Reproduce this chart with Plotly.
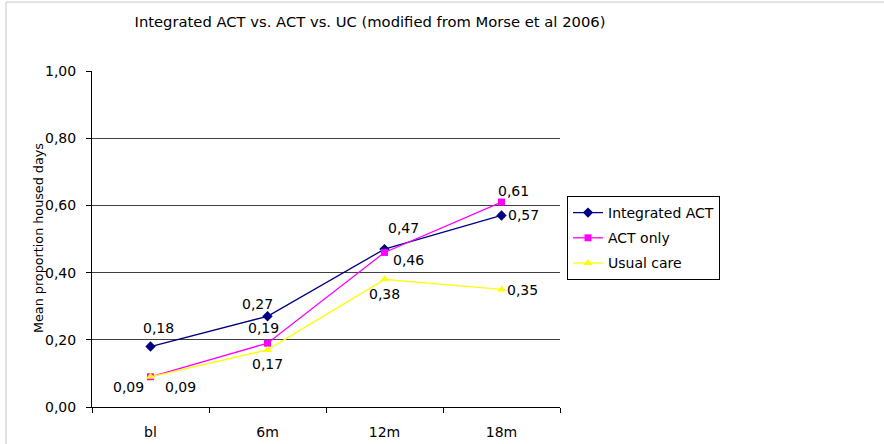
import plotly.graph_objects as go

categories = ["bl", "6m", "12m", "18m"]
integrated_act = [0.18, 0.27, 0.47, 0.57]
act_only = [0.09, 0.19, 0.46, 0.61]
usual_care = [0.09, 0.17, 0.38, 0.35]
y_ticks = [0.0, 0.2, 0.4, 0.6, 0.8, 1.0]

W, H = 884, 444
L, R, T, B = 92, 324, 71, 37
FONT = "DejaVu Sans, Arial, sans-serif"

series = [
    ("Integrated ACT", integrated_act, "#000080", "diamond", 8,
     [(8, 19), (-10, 12), (19, 21), (22, 0)]),
    ("ACT only", act_only, "#FF00FF", "square", 7,
     [(-22, -10), (-4, 15), (24, -8), (12, 11)]),
    ("Usual care", usual_care, "#FFFF00", "triangle-up", 8,
     [(30, -10), (0, -14), (0, -15), (21, -1)]),
]

fig = go.Figure()
annotations = []
for name, vals, color, sym, msize, offs in series:
    fig.add_trace(go.Scatter(
        x=categories, y=vals, name=name, legendgroup=name, mode="lines+markers",
        line=dict(color=color, width=1.3),
        marker=dict(color=color, symbol=sym, size=msize),
    ))
    for c, v, (dx, dy) in zip(categories, vals, offs):
        annotations.append(dict(
            x=c, y=v, xref="x", yref="y", text=f"{v:.2f}".replace(".", ","),
            showarrow=False, xshift=dx, yshift=dy,
            font=dict(family=FONT, size=14, color="#000"),
        ))

pw = W - L - R
ph = H - T - B
y_bottom = H - B  # pixel row of the x axis in the figure


def py(pix):
    return (y_bottom - pix) / ph


def px(pix):
    return (pix - L) / pw


annotations.append(dict(
    text="Mean proportion housed days", textangle=-90,
    x=px(38), y=py(238), xref="paper", yref="paper", xanchor="center", yanchor="middle",
    showarrow=False, font=dict(family=FONT, size=12.75, color="#000"),
))

fig.update_layout(
    template="none",
    width=W, height=H,
    margin=dict(l=L, r=R, t=T, b=B, pad=0, autoexpand=False),
    paper_bgcolor="white", plot_bgcolor="white",
    separators=",.",
    font=dict(family=FONT, size=14, color="#000"),
    title=dict(text="Integrated ACT vs. ACT vs. UC (modified from Morse et al 2006)",
               x=370 / W, xanchor="center", y=1 - 22 / H, yanchor="middle",
               font=dict(family=FONT, size=14.75, color="#000")),
    showlegend=True,
    legend=dict(x=px(567), y=py(196), xanchor="left", yanchor="top",
                bgcolor="white", bordercolor="#000", borderwidth=1,
                font=dict(family=FONT, size=14, color="#000"),
                itemwidth=30, tracegroupgap=4),
    annotations=annotations,
    shapes=[dict(type="rect", xref="paper", yref="paper",
                 x0=px(6), x1=px(900), y0=py(460), y1=py(2),
                 line=dict(color="#c8c8c8", width=1), layer="below")],
)
fig.update_xaxes(
    type="category", range=[-0.5, 3.5], showline=True, linecolor="#000", linewidth=1,
    ticks="outside", tickson="boundaries", ticklen=5, tickcolor="#000",
    showgrid=False, ticklabelstandoff=12, tickfont=dict(size=14), automargin=False,
)
fig.update_yaxes(
    range=[0, 1.0], tickvals=y_ticks, tickformat=".2f", showline=True,
    linecolor="#000", linewidth=1, ticks="outside", ticklen=5, tickcolor="#000",
    showgrid=True, gridcolor="#404040", gridwidth=1, zeroline=False,
    ticklabelstandoff=7, tickfont=dict(size=14), automargin=False,
)

fig.write_html("out.html", config={"displayModeBar": False},
               post_script="document.body.style.margin='0';")
